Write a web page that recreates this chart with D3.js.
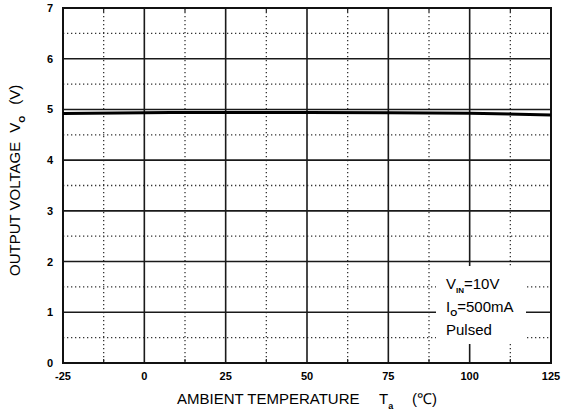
<!DOCTYPE html>
<html>
<head>
<meta charset="utf-8">
<script src="https://cdn.jsdelivr.net/npm/d3@7"></script>
<style>
body { margin: 0; background: #fff; }
svg { font-family: Arial, "Liberation Sans", sans-serif; }
</style>
</head>
<body>
<svg id="chart" width="562" height="414"></svg>
<script>
// data
let temps = [-25, 0, 25, 50, 75, 100, 125];
let volts = [4.92, 4.935, 4.94, 4.94, 4.935, 4.925, 4.89];
let xTicks = [-25, 0, 25, 50, 75, 100, 125];
let yTicks = [0, 1, 2, 3, 4, 5, 6, 7];
let legendLines = ["=10V", "=500mA", "Pulsed"];

let svg = d3.select("#chart");
let mLeft = 63, mRight = 551, mTop = 8, mBottom = 363;
let width = mRight - mLeft, height = mBottom - mTop;

let g = svg.append("g").attr("transform", "translate(" + mLeft + "," + mTop + ")");

let xScale = d3.scaleLinear().domain([-25, 125]).range([0, width]);
let yScale = d3.scaleLinear().domain([0, 7]).range([height, 0]);

// minor dotted grid at half steps
let xMinor = d3.range(-12.5, 125, 25);
let yMinor = d3.range(0.5, 7, 1);

g.selectAll(".vminor")
    .data(xMinor)
    .enter().append("line")
    .attr("x1", function (d) { return xScale(d); })
    .attr("x2", function (d) { return xScale(d); })
    .attr("y1", 0)
    .attr("y2", height)
    .attr("stroke", "#333")
    .attr("stroke-width", 1.3)
    .attr("stroke-dasharray", "1.3,2.7");

g.selectAll(".hminor")
    .data(yMinor)
    .enter().append("line")
    .attr("x1", 0)
    .attr("x2", width)
    .attr("y1", function (d) { return yScale(d); })
    .attr("y2", function (d) { return yScale(d); })
    .attr("stroke", "#333")
    .attr("stroke-width", 1.3)
    .attr("stroke-dasharray", "1.3,2.7");

// major solid grid
g.selectAll(".vmajor")
    .data(xTicks)
    .enter().append("line")
    .attr("x1", function (d) { return xScale(d); })
    .attr("x2", function (d) { return xScale(d); })
    .attr("y1", 0)
    .attr("y2", height)
    .attr("stroke", "#1a1a1a")
    .attr("stroke-width", 1.6);

g.selectAll(".hmajor")
    .data(yTicks)
    .enter().append("line")
    .attr("x1", 0)
    .attr("x2", width)
    .attr("y1", function (d) { return yScale(d); })
    .attr("y2", function (d) { return yScale(d); })
    .attr("stroke", "#1a1a1a")
    .attr("stroke-width", 1.6);

// small ticks on top and bottom at minor positions
g.selectAll(".ttick")
    .data(xMinor)
    .enter().append("line")
    .attr("x1", function (d) { return xScale(d); })
    .attr("x2", function (d) { return xScale(d); })
    .attr("y1", 0)
    .attr("y2", 4)
    .attr("stroke", "#222")
    .attr("stroke-width", 1.2);

g.selectAll(".btick")
    .data(xMinor)
    .enter().append("line")
    .attr("x1", function (d) { return xScale(d); })
    .attr("x2", function (d) { return xScale(d); })
    .attr("y1", height)
    .attr("y2", height - 4)
    .attr("stroke", "#222")
    .attr("stroke-width", 1.2);

// frame
g.append("rect")
    .attr("width", width)
    .attr("height", height)
    .attr("fill", "none")
    .attr("stroke", "#111")
    .attr("stroke-width", 2);

// curve
let line = d3.line()
    .x(function (d, i) { return xScale(temps[i]); })
    .y(function (d) { return yScale(d); })
    .curve(d3.curveMonotoneX);

g.append("path")
    .datum(volts)
    .attr("d", line)
    .attr("fill", "none")
    .attr("stroke", "#000")
    .attr("stroke-width", 3);

// legend box covering the grid
g.append("rect")
    .attr("x", 436 - mLeft)
    .attr("y", 266 - mTop)
    .attr("width", 90)
    .attr("height", 78)
    .attr("fill", "#fff");

let leg = g.append("g").attr("font-size", "15px").attr("fill", "#000");
let lx = 446 - mLeft;

let t0 = leg.append("text").attr("x", lx).attr("y", 289 - mTop);
t0.append("tspan").text("V");
t0.append("tspan").attr("font-size", "8px").attr("font-weight", "bold").attr("dy", 4).text("IN");
t0.append("tspan").attr("dy", -4).text(legendLines[0]);

let t1 = leg.append("text").attr("x", lx).attr("y", 312 - mTop);
t1.append("tspan").text("I");
t1.append("tspan").attr("font-size", "9px").attr("font-weight", "bold").attr("dy", 4).text("O");
t1.append("tspan").attr("dy", -4).text(legendLines[1]);

leg.append("text").attr("x", lx).attr("y", 335 - mTop).text(legendLines[2]);

// tick labels
g.selectAll(".xlab")
    .data(xTicks)
    .enter().append("text")
    .attr("x", function (d) { return xScale(d); })
    .attr("y", height + 17)
    .attr("text-anchor", "middle")
    .attr("font-size", "11px")
    .attr("font-weight", "bold")
    .text(function (d) { return d; });

g.selectAll(".ylab")
    .data(yTicks)
    .enter().append("text")
    .attr("x", -10)
    .attr("y", function (d) { return yScale(d) + 4; })
    .attr("text-anchor", "end")
    .attr("font-size", "11px")
    .attr("font-weight", "bold")
    .text(function (d) { return d; });

// x axis title
let xt = svg.append("text").attr("x", 177).attr("y", 404).attr("font-size", "15px");
xt.append("tspan").text("AMBIENT TEMPERATURE");
xt.append("tspan").attr("x", 379).text("T");
xt.append("tspan").attr("font-size", "9px").attr("font-weight", "bold").attr("dy", 5).text("a");
xt.append("tspan").attr("x", 412).attr("dy", -5).text("(℃)");

// y axis title
let yt = svg.append("text")
    .attr("transform", "translate(20,276) rotate(-90)")
    .attr("font-size", "15px");
yt.append("tspan").text("OUTPUT VOLTAGE");
yt.append("tspan").attr("dx", 9).text("V");
yt.append("tspan").attr("font-size", "9px").attr("font-weight", "bold").attr("dy", 5).text("O");
yt.append("tspan").attr("dx", 11).attr("dy", -5).text("(V)");
</script>
</body>
</html>
